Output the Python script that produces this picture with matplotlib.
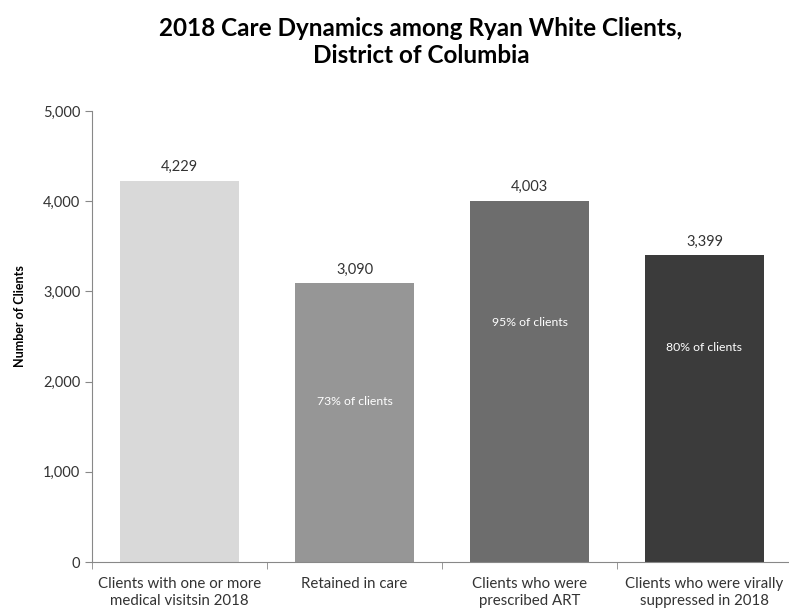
import matplotlib.pyplot as plt
import numpy as np

# data
categories = ['Clients with one or more\nmedical visitsin 2018', 'Retained in care',
              'Clients who were\nprescribed ART', 'Clients who were virally\nsuppressed in 2018']
clients = [4229, 3090, 4003, 3399]
pct_labels = ['', '73% of clients', '95% of clients', '80% of clients']
bar_colors = ['#d9d9d9', '#969696', '#6d6d6d', '#3b3b3b']

plt.rcParams['font.family'] = ['Lato', 'DejaVu Sans']

fig = plt.figure(figsize=(7.89, 6.09), dpi=100)
ax = fig.add_axes([92/789, 1 - 562/609, 700/789, 451/609])

x = np.arange(len(categories))
ax.bar(x, clients, width=0.675, color=bar_colors)

for i, v in enumerate(clients):
    ax.text(i, v + 75, f'{v:,}', ha='center', va='bottom', fontsize=10.5, color='#333333')

# percentage labels inside bars (positions as in original)
pct_y = [0, 1775, 2650, 2373]
for i, t in enumerate(pct_labels):
    if t:
        ax.text(i, pct_y[i], t, ha='center', va='center', fontsize=8.8, color='white')

ax.set_xlim(-0.5, 3.5)
ax.set_ylim(0, 5000)
ax.set_yticks(range(0, 5001, 1000))
ax.yaxis.set_major_formatter(plt.FuncFormatter(lambda v, p: f'{int(v):,}'))
ax.set_xticks(x)
ax.set_xticklabels(categories, fontsize=10.8, color='#333333', linespacing=1.25)
ax.tick_params(axis='x', length=0, pad=11)
ax.set_xticks(np.arange(-0.5, 4, 1), minor=True)
ax.tick_params(axis='x', which='minor', length=5, color='#888888')
ax.tick_params(axis='y', length=5, color='#888888', labelsize=10.5, labelcolor='#333333')
for s in ['top', 'right']:
    ax.spines[s].set_visible(False)
for s in ['left', 'bottom']:
    ax.spines[s].set_color('#888888')

ax.set_ylabel('Number of Clients', fontsize=9, fontweight='bold')
ax.yaxis.set_label_coords(-66/700, (562 - 316)/451)

fig.text(421/789, 1 - 42/609, '2018 Care Dynamics among Ryan White Clients,\nDistrict of Columbia',
         ha='center', va='center', fontsize=17.5, fontweight='bold', linespacing=1.25)

fig.savefig('out.png', dpi=100)
